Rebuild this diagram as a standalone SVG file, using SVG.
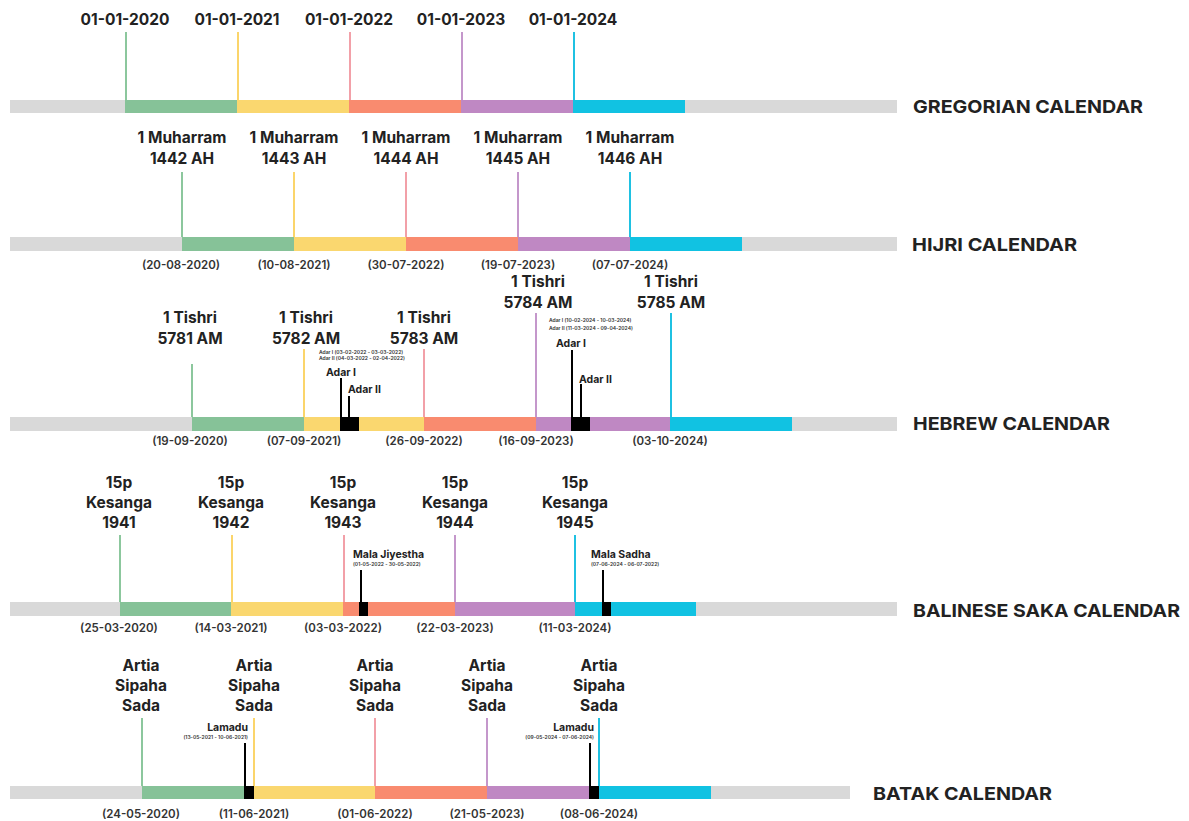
<svg xmlns="http://www.w3.org/2000/svg" width="1189" height="821" viewBox="0 0 1189 821">
<style>
.lbl{font-family:Inter,"Open Sans","Liberation Sans",sans-serif;font-weight:700;font-size:15.5px;fill:#222;text-anchor:middle}
.cal{font-family:Inter,"Open Sans","Liberation Sans",sans-serif;font-weight:700;font-size:18px;fill:#222}
.dt{font-family:Inter,"Open Sans","Liberation Sans",sans-serif;font-weight:600;font-size:11.5px;fill:#333;text-anchor:middle}
.sm{font-family:Inter,"Open Sans","Liberation Sans",sans-serif;font-weight:700;font-size:10.5px;fill:#222}
.tiny{font-family:Inter,"Open Sans","Liberation Sans",sans-serif;font-weight:600;font-size:5px;fill:#333}
.bg{fill:#d9d9d9}.g{fill:#86c298}.y{fill:#fad76f}.r{fill:#f98b6f}.p{fill:#bf88c3}.c{fill:#11c2e2}.k{fill:#000}
.lg{stroke:#8cc79d;stroke-width:2}.ly{stroke:#fbd56b;stroke-width:2}.lr{stroke:#f2a0a8;stroke-width:2}.lp{stroke:#c497cb;stroke-width:2}.lc{stroke:#1fc1e2;stroke-width:2}.lk{stroke:#000;stroke-width:2}
</style>
<rect width="1189" height="821" fill="#fff"/>

<g id="gregorian">
<rect class="bg" x="10" y="100" width="887" height="13"/>
<rect class="g" x="125" y="100" width="112" height="13"/>
<rect class="y" x="237" y="100" width="112" height="13"/>
<rect class="r" x="349" y="100" width="112" height="13"/>
<rect class="p" x="461" y="100" width="112" height="13"/>
<rect class="c" x="573" y="100" width="112" height="13"/>
<line class="lg" x1="126" y1="32" x2="126" y2="100"/>
<line class="ly" x1="238" y1="32" x2="238" y2="100"/>
<line class="lr" x1="350" y1="32" x2="350" y2="100"/>
<line class="lp" x1="462" y1="32" x2="462" y2="100"/>
<line class="lc" x1="574" y1="32" x2="574" y2="100"/>
<text class="lbl" x="125" y="25">01-01-2020</text>
<text class="lbl" x="237" y="25">01-01-2021</text>
<text class="lbl" x="349" y="25">01-01-2022</text>
<text class="lbl" x="461" y="25">01-01-2023</text>
<text class="lbl" x="573" y="25">01-01-2024</text>
<text class="cal" x="913" y="113" textLength="230" lengthAdjust="spacingAndGlyphs">GREGORIAN CALENDAR</text>
</g>

<g id="hijri">
<rect class="bg" x="10" y="237" width="887" height="14"/>
<rect class="g" x="182" y="237" width="112" height="14"/>
<rect class="y" x="294" y="237" width="112" height="14"/>
<rect class="r" x="406" y="237" width="112" height="14"/>
<rect class="p" x="518" y="237" width="112" height="14"/>
<rect class="c" x="630" y="237" width="112" height="14"/>
<line class="lg" x1="182" y1="172" x2="182" y2="237"/>
<line class="ly" x1="294" y1="172" x2="294" y2="237"/>
<line class="lr" x1="406" y1="172" x2="406" y2="237"/>
<line class="lp" x1="518" y1="172" x2="518" y2="237"/>
<line class="lc" x1="630" y1="172" x2="630" y2="237"/>
<text class="lbl" x="182" y="143">1 Muharram</text><text class="lbl" x="182" y="164">1442 AH</text>
<text class="lbl" x="294" y="143">1 Muharram</text><text class="lbl" x="294" y="164">1443 AH</text>
<text class="lbl" x="406" y="143">1 Muharram</text><text class="lbl" x="406" y="164">1444 AH</text>
<text class="lbl" x="518" y="143">1 Muharram</text><text class="lbl" x="518" y="164">1445 AH</text>
<text class="lbl" x="630" y="143">1 Muharram</text><text class="lbl" x="630" y="164">1446 AH</text>
<text class="dt" x="181" y="269">(20-08-2020)</text>
<text class="dt" x="294" y="269">(10-08-2021)</text>
<text class="dt" x="406" y="269">(30-07-2022)</text>
<text class="dt" x="518" y="269">(19-07-2023)</text>
<text class="dt" x="630" y="269">(07-07-2024)</text>
<text class="cal" x="912" y="251" textLength="165" lengthAdjust="spacingAndGlyphs">HIJRI CALENDAR</text>
</g>

<g id="hebrew">
<rect class="bg" x="10" y="417" width="887" height="14"/>
<rect class="g" x="192" y="417" width="112" height="14"/>
<rect class="y" x="304" y="417" width="120" height="14"/>
<rect class="r" x="424" y="417" width="112" height="14"/>
<rect class="p" x="536" y="417" width="134" height="14"/>
<rect class="c" x="670" y="417" width="122" height="14"/>
<rect class="k" x="340" y="417" width="19" height="14"/>
<rect class="k" x="571" y="417" width="19" height="14"/>
<line class="lg" x1="192" y1="364" x2="192" y2="417"/>
<line class="ly" x1="304" y1="349" x2="304" y2="417"/>
<line class="lr" x1="424" y1="349" x2="424" y2="417"/>
<line class="lp" x1="536" y1="313" x2="536" y2="417"/>
<line class="lc" x1="671" y1="313" x2="671" y2="417"/>
<line class="lk" x1="341" y1="378" x2="341" y2="417"/>
<line class="lk" x1="349" y1="396" x2="349" y2="417"/>
<line class="lk" x1="572" y1="350" x2="572" y2="417"/>
<line class="lk" x1="581" y1="384" x2="581" y2="417"/>
<text class="lbl" x="190" y="323">1 Tishri</text><text class="lbl" x="190" y="344">5781 AM</text>
<text class="lbl" x="306" y="323">1 Tishri</text><text class="lbl" x="306" y="344">5782 AM</text>
<text class="lbl" x="424" y="323">1 Tishri</text><text class="lbl" x="424" y="344">5783 AM</text>
<text class="lbl" x="538" y="287">1 Tishri</text><text class="lbl" x="538" y="308">5784 AM</text>
<text class="lbl" x="671" y="287">1 Tishri</text><text class="lbl" x="671" y="308">5785 AM</text>
<text class="tiny" x="319" y="354">Adar I (03-02-2022 - 03-03-2022)</text>
<text class="tiny" x="319" y="360">Adar II (04-03-2022 - 02-04-2022)</text>
<text class="sm" x="326" y="376">Adar I</text>
<text class="sm" x="348" y="393">Adar II</text>
<text class="tiny" x="549" y="322">Adar I (10-02-2024 - 10-03-2024)</text>
<text class="tiny" x="549" y="330">Adar II (11-03-2024 - 09-04-2024)</text>
<text class="sm" x="556" y="347">Adar I</text>
<text class="sm" x="579" y="383">Adar II</text>
<text class="dt" x="190" y="445">(19-09-2020)</text>
<text class="dt" x="304" y="445">(07-09-2021)</text>
<text class="dt" x="424" y="445">(26-09-2022)</text>
<text class="dt" x="536" y="445">(16-09-2023)</text>
<text class="dt" x="670" y="445">(03-10-2024)</text>
<text class="cal" x="913" y="430" textLength="197" lengthAdjust="spacingAndGlyphs">HEBREW CALENDAR</text>
</g>

<g id="balinese">
<rect class="bg" x="10" y="602" width="887" height="14"/>
<rect class="g" x="120" y="602" width="111" height="14"/>
<rect class="y" x="231" y="602" width="112" height="14"/>
<rect class="r" x="343" y="602" width="112" height="14"/>
<rect class="p" x="455" y="602" width="120" height="14"/>
<rect class="c" x="575" y="602" width="121" height="14"/>
<rect class="k" x="359" y="602" width="9" height="14"/>
<rect class="k" x="602" y="602" width="9" height="14"/>
<line class="lg" x1="120" y1="535" x2="120" y2="602"/>
<line class="ly" x1="232" y1="535" x2="232" y2="602"/>
<line class="lr" x1="344" y1="535" x2="344" y2="602"/>
<line class="lp" x1="455" y1="535" x2="455" y2="602"/>
<line class="lc" x1="575" y1="535" x2="575" y2="602"/>
<line class="lk" x1="361" y1="570" x2="361" y2="602"/>
<line class="lk" x1="603" y1="570" x2="603" y2="602"/>
<text class="lbl" x="119" y="488">15p</text><text class="lbl" x="119" y="508">Kesanga</text><text class="lbl" x="119" y="528">1941</text>
<text class="lbl" x="231" y="488">15p</text><text class="lbl" x="231" y="508">Kesanga</text><text class="lbl" x="231" y="528">1942</text>
<text class="lbl" x="343" y="488">15p</text><text class="lbl" x="343" y="508">Kesanga</text><text class="lbl" x="343" y="528">1943</text>
<text class="lbl" x="455" y="488">15p</text><text class="lbl" x="455" y="508">Kesanga</text><text class="lbl" x="455" y="528">1944</text>
<text class="lbl" x="575" y="488">15p</text><text class="lbl" x="575" y="508">Kesanga</text><text class="lbl" x="575" y="528">1945</text>
<text class="sm" x="353" y="558">Mala Jiyestha</text>
<text class="tiny" x="353" y="566">(01-05-2022 - 30-05-2022)</text>
<text class="sm" x="591" y="558">Mala Sadha</text>
<text class="tiny" x="591" y="566">(07-06-2024 - 06-07-2022)</text>
<text class="dt" x="119" y="632">(25-03-2020)</text>
<text class="dt" x="231" y="632">(14-03-2021)</text>
<text class="dt" x="343" y="632">(03-03-2022)</text>
<text class="dt" x="455" y="632">(22-03-2023)</text>
<text class="dt" x="575" y="632">(11-03-2024)</text>
<text class="cal" x="913" y="617" textLength="267" lengthAdjust="spacingAndGlyphs">BALINESE SAKA CALENDAR</text>
</g>

<g id="batak">
<rect class="bg" x="10" y="786" width="840" height="13"/>
<rect class="g" x="142" y="786" width="112" height="13"/>
<rect class="y" x="254" y="786" width="121" height="13"/>
<rect class="r" x="375" y="786" width="112" height="13"/>
<rect class="p" x="487" y="786" width="112" height="13"/>
<rect class="c" x="599" y="786" width="112" height="13"/>
<rect class="k" x="244" y="786" width="10" height="13"/>
<rect class="k" x="589" y="786" width="10" height="13"/>
<line class="lg" x1="142" y1="718" x2="142" y2="786"/>
<line class="ly" x1="254" y1="718" x2="254" y2="786"/>
<line class="lr" x1="375" y1="718" x2="375" y2="786"/>
<line class="lp" x1="487" y1="718" x2="487" y2="786"/>
<line class="lc" x1="599" y1="718" x2="599" y2="786"/>
<line class="lk" x1="245" y1="743" x2="245" y2="786"/>
<line class="lk" x1="590" y1="743" x2="590" y2="786"/>
<text class="lbl" x="141" y="671">Artia</text><text class="lbl" x="141" y="691">Sipaha</text><text class="lbl" x="141" y="711">Sada</text>
<text class="lbl" x="254" y="671">Artia</text><text class="lbl" x="254" y="691">Sipaha</text><text class="lbl" x="254" y="711">Sada</text>
<text class="lbl" x="375" y="671">Artia</text><text class="lbl" x="375" y="691">Sipaha</text><text class="lbl" x="375" y="711">Sada</text>
<text class="lbl" x="487" y="671">Artia</text><text class="lbl" x="487" y="691">Sipaha</text><text class="lbl" x="487" y="711">Sada</text>
<text class="lbl" x="599" y="671">Artia</text><text class="lbl" x="599" y="691">Sipaha</text><text class="lbl" x="599" y="711">Sada</text>
<text class="sm" x="248" y="731" text-anchor="end">Lamadu</text>
<text class="tiny" x="248" y="739" text-anchor="end">(13-05-2021 - 10-06-2021)</text>
<text class="sm" x="594" y="731" text-anchor="end">Lamadu</text>
<text class="tiny" x="594" y="739" text-anchor="end">(09-05-2024 - 07-06-2024)</text>
<text class="dt" x="141" y="818">(24-05-2020)</text>
<text class="dt" x="254" y="818">(11-06-2021)</text>
<text class="dt" x="375" y="818">(01-06-2022)</text>
<text class="dt" x="487" y="818">(21-05-2023)</text>
<text class="dt" x="599" y="818">(08-06-2024)</text>
<text class="cal" x="873" y="800" textLength="179" lengthAdjust="spacingAndGlyphs">BATAK CALENDAR</text>
</g>
</svg>
